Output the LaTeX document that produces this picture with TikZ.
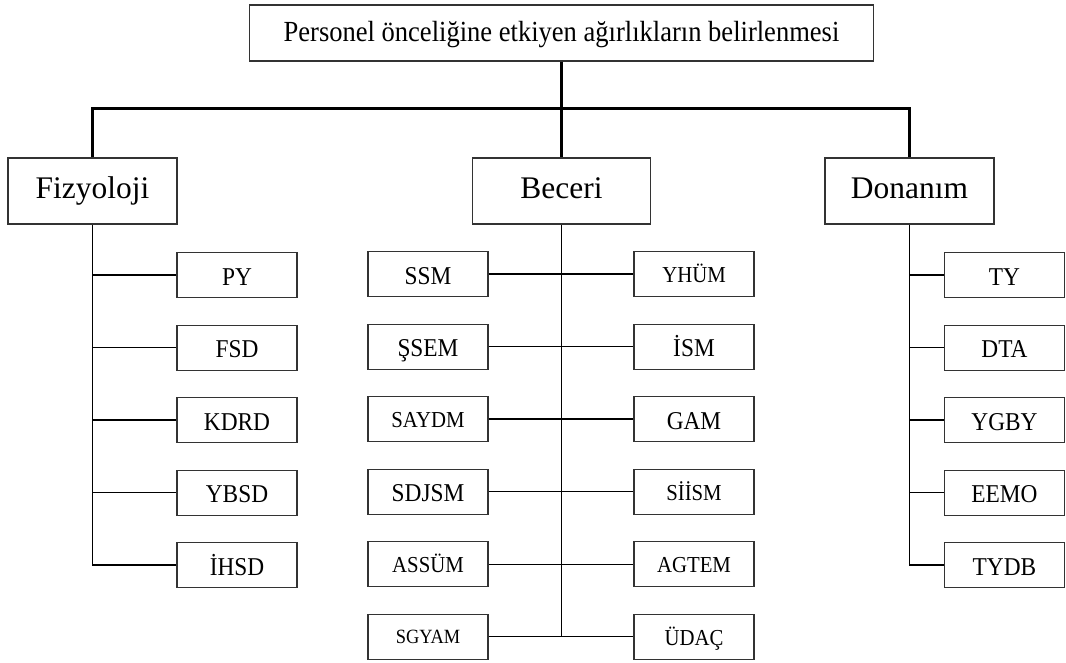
\documentclass[tikz,border=0pt]{standalone}
\usepackage{fontspec}
\setmainfont{Liberation Serif}
\newfontfamily\narrowfont[FakeStretch=0.91]{Liberation Serif}
\usetikzlibrary{positioning}

\begin{document}
\begin{tikzpicture}[x=0.02cm, y=-0.02cm,
                    node distance=0.53cm,
                    box/.style={rectangle, draw=black!80, line width=0.6pt, inner sep=0pt},
                    goal/.style={box, minimum width=12.5cm, minimum height=1.12cm, text height=12.6pt, text depth=3.3pt, font=\narrowfont\fontsize{16.6}{19}\selectfont},
                    cat/.style={box, minimum width=3.38cm, minimum height=1.32cm, text height=12pt, text depth=4pt, font=\fontsize{17.9}{21}\selectfont},
                    leaf/.style={box, minimum width=2.4cm, minimum height=0.9cm, text height=11.8pt, text depth=0pt, font=\narrowfont\fontsize{14.6}{17}\selectfont},
                    sleaf/.style={leaf, text height=9.8pt, font=\narrowfont\fontsize{13}{15}\selectfont},
                    trunk/.style={line width=1.5pt},
                    stem/.style={line width=1pt},
                    twig/.style={line width=0.7pt}
                    ]
  \useasboundingbox (0,0) rectangle (1066,663);
  % top and the three groups
  \node[goal] (top) at (561.5,33) {Personel önceliğine etkiyen ağırlıkların belirlenmesi};
  \node[cat] (fiz) at (92.5,191) {Fizyoloji};
  \node[cat, minimum width=3.56cm] (bec) at (561.5,191) {Beceri};
  \node[cat] (don) at (909.5,191) {Donanım};
  \coordinate (bar) at (561.5,108.5);

  % Fizyoloji
  \node[leaf] (py) at (237,275) {PY};
  \node[leaf] (fsd) [below=of py] {FSD};
  \node[leaf] (kdrd) [below=of fsd] {KDRD};
  \node[leaf] (ybsd) [below=of kdrd] {YBSD};
  \node[leaf] (ihsd) [below=of ybsd] {İHSD};

  % Beceri
  \node[leaf] (ssm) at (428,274) {SSM};
  \node[leaf] (ssem) [below=of ssm] {ŞSEM};
  \node[sleaf] (saydm) [below=of ssem] {SAYDM};
  \node[leaf] (sdjsm) [below=of saydm] {SDJSM};
  \node[sleaf] (assum) [below=of sdjsm] {ASSÜM};
  \node[sleaf, text height=7.6pt, font=\narrowfont\fontsize{11.5}{13}\selectfont] (sgyam) [below=of assum] {SGYAM};
  \node[sleaf] (yhum) [right=2.9cm of ssm] {YHÜM};
  \node[leaf] (ism) [right=2.9cm of ssem] {İSM};
  \node[leaf] (gam) [right=2.9cm of saydm] {GAM};
  \node[sleaf] (siism) [right=2.9cm of sdjsm] {SİİSM};
  \node[sleaf] (agtem) [right=2.9cm of assum] {AGTEM};
  \node[sleaf] (udac) [right=2.9cm of sgyam] {ÜDAÇ};

  % Donanim
  \node[leaf] (ty) at (1004.5,275) {TY};
  \node[leaf] (dta) [below=of ty] {DTA};
  \node[leaf] (ygby) [below=of dta] {YGBY};
  \node[leaf] (eemo) [below=of ygby] {EEMO};
  \node[leaf] (tydb) [below=of eemo] {TYDB};

  \draw[trunk] (top) -- (bec);
  \draw[trunk] (fiz) |- (bar) -| (don);

  \draw[stem] (fiz) |- (ihsd);
  \foreach \n in {py,fsd,kdrd,ybsd}
    \draw[twig] (fiz |- \n) -- (\n);

  \draw[stem] (bec) -- (bec |- sgyam);
  \draw[twig] (ssm) -- (yhum);
  \draw[twig] (ssem) -- (ism);
  \draw[twig] (saydm) -- (gam);
  \draw[twig] (sdjsm) -- (siism);
  \draw[twig] (assum) -- (agtem);
  \draw[twig] (sgyam) -- (udac);

  \draw[stem] (don) |- (tydb);
  \foreach \n in {ty,dta,ygby,eemo}
    \draw[twig] (don |- \n) -- (\n);
\end{tikzpicture}
\end{document}
